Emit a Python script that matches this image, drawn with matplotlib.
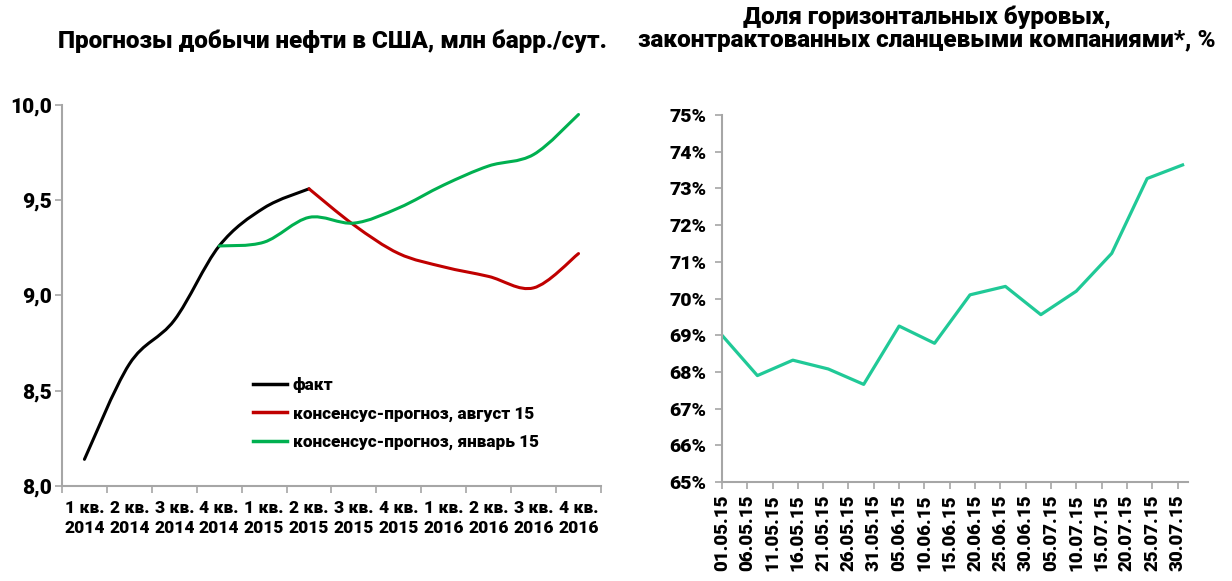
import numpy as np
import pandas as pd
import matplotlib
matplotlib.use('Agg')
import matplotlib.pyplot as plt
import matplotlib.dates as mdates
from matplotlib.path import Path
from matplotlib.patches import PathPatch
from matplotlib.lines import Line2D

plt.rcParams['font.family'] = ['Roboto', 'DejaVu Sans']
W = 'heavy'
plt.rcParams['font.weight'] = W

# left chart data: quarters 2014-2016
quarters = ['1 кв.\n2014', '2 кв.\n2014', '3 кв.\n2014', '4 кв.\n2014',
            '1 кв.\n2015', '2 кв.\n2015', '3 кв.\n2015', '4 кв.\n2015',
            '1 кв.\n2016', '2 кв.\n2016', '3 кв.\n2016', '4 кв.\n2016']
fact = [8.14, 8.64, 8.87, 9.26, 9.46, 9.56]
forecast_aug = [9.56, 9.37, 9.22, 9.15, 9.10, 9.04, 9.22]
forecast_jan = [9.26, 9.28, 9.41, 9.38, 9.46, 9.58, 9.68, 9.74, 9.95]

# right chart data: weekly share of horizontal rigs
rig_dates = pd.date_range('2015-05-01', periods=14, freq='7D')
rig_share = [69.0, 67.9, 68.32, 68.08, 67.66, 69.25, 68.78,
             70.1, 70.33, 69.56, 70.2, 71.23, 73.27, 73.64]

title_left = 'Прогнозы добычи нефти в США, млн барр./сут.'
title_right = 'Доля горизонтальных буровых,\nзаконтрактованных сланцевыми компаниями*, %'

grey = '#a6a6a6'


def smooth_path(xs, ys):
    # excel-like smoothed line (catmull-rom as cubic bezier)
    pts = np.column_stack([xs, ys]).astype(float)
    verts = [pts[0]]
    codes = [Path.MOVETO]
    n = len(pts)
    for i in range(n - 1):
        p0 = pts[i - 1] if i > 0 else pts[i]
        p1 = pts[i]
        p2 = pts[i + 1]
        p3 = pts[i + 2] if i + 2 < n else pts[i + 1]
        c1 = p1 + (p2 - p0) / 6
        c2 = p2 - (p3 - p1) / 6
        verts += [c1, c2, p2]
        codes += [Path.CURVE4] * 3
    return Path(verts, codes)


fig = plt.figure(figsize=(12.32, 5.81), dpi=100)

# ---- left chart
ax1 = fig.add_axes([0.0503, 0.1635, 0.4375, 0.6558])
x_all = np.arange(1, len(quarters) + 1)
series = [
    (x_all[:len(fact)], fact, '#000000', 'факт'),
    (x_all[len(fact) - 1:], forecast_aug, '#c00000', 'консенсус-прогноз, август 15'),
    (x_all[3:], forecast_jan, '#00b050', 'консенсус-прогноз, январь 15'),
]
handles = []
for xs, ys, col, lab in series:
    ax1.add_patch(PathPatch(smooth_path(xs, ys), facecolor='none',
                            edgecolor=col, lw=2.2, capstyle='round'))
    handles.append(Line2D([], [], color=col, lw=2.5, label=lab))

ax1.set_xlim(0.5, len(quarters) + 0.5)
ax1.set_ylim(8.0, 10.0)
ax1.set_yticks([8.0, 8.5, 9.0, 9.5, 10.0])
ax1.set_yticklabels(['8,0', '8,5', '9,0', '9,5', '10,0'])
ax1.set_xticks(np.arange(0.5, len(quarters) + 1, 1))
ax1.set_xticklabels([])
ax1.set_xticks(x_all, minor=True)
ax1.set_xticklabels(quarters, minor=True, fontsize=12.5, fontweight=W,
                    linespacing=1.3)
ax1.tick_params(axis='x', which='minor', length=0, pad=10)
ax1.tick_params(axis='x', which='major', length=5, color=grey, width=1.2)
ax1.tick_params(axis='y', length=5, color=grey, width=1.2, labelsize=15, pad=2)
for lab in ax1.get_yticklabels():
    lab.set_fontweight(W)
for s in ['top', 'right']:
    ax1.spines[s].set_visible(False)
for s in ['left', 'bottom']:
    ax1.spines[s].set_color(grey)
    ax1.spines[s].set_linewidth(1.5)

ax1.legend(handles=handles, loc='center left', bbox_to_anchor=(0.355, 0.19),
           frameon=False, handlelength=2.0, handletextpad=0.3,
           labelspacing=0.7, borderpad=0, borderaxespad=0,
           prop={'weight': W, 'size': 12.3})

fig.text(0.27, 0.929, title_left, ha='center', va='center',
         fontsize=17.5, fontweight=W)

# ---- right chart
ax2 = fig.add_axes([0.586, 0.1704, 0.378, 0.6316])
ax2.plot(rig_dates, rig_share, color='#20c997', lw=2.3)
ax2.set_ylim(65, 75)
ax2.set_yticks(range(65, 76))
ax2.set_yticklabels([f'{v}%' for v in range(65, 76)])
ax2.set_xlim(pd.Timestamp('2015-05-01'), pd.Timestamp('2015-08-01'))
ax2.set_xticks(pd.date_range('2015-05-01', '2015-07-30', freq='5D'))
ax2.xaxis.set_major_formatter(mdates.DateFormatter('%d.%m.%y'))
ax2.tick_params(axis='x', length=5, color=grey, width=1.2, labelsize=13.5,
                labelrotation=90, pad=4)
ax2.tick_params(axis='y', length=5, color=grey, width=1.2, labelsize=14, pad=6)
for lab in ax2.get_xticklabels() + ax2.get_yticklabels():
    lab.set_fontweight(W)
for s in ['top', 'right']:
    ax2.spines[s].set_visible(False)
for s in ['left', 'bottom']:
    ax2.spines[s].set_color(grey)
    ax2.spines[s].set_linewidth(1.5)

fig.text(0.752, 0.95, title_right, ha='center', va='center',
         fontsize=17.5, fontweight=W, linespacing=1.0)

fig.savefig('out.png', dpi=100, facecolor='white')
